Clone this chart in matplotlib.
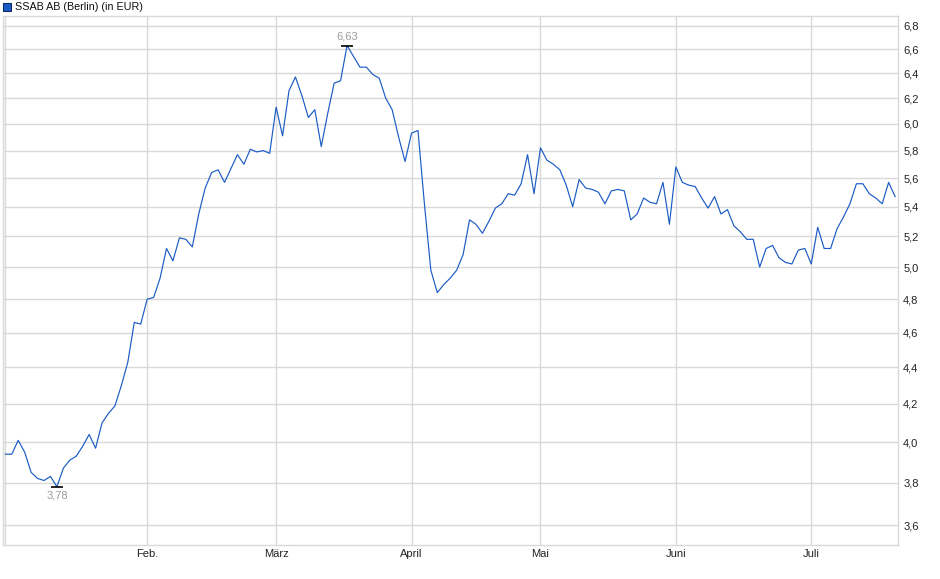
import matplotlib
matplotlib.use("Agg")
import matplotlib.pyplot as plt
from matplotlib.patches import Rectangle
from matplotlib.ticker import FixedLocator, NullLocator, FuncFormatter
import numpy as np

# daily closing prices (EUR), one value per trading day
prices = [
    3.94, 3.94, 4.01, 3.95, 3.85, 3.82, 3.81, 3.83, 3.78, 3.87,
    3.91, 3.93, 3.98, 4.04, 3.97, 4.10, 4.15, 4.19, 4.30, 4.43,
    4.66, 4.65, 4.80, 4.81, 4.93, 5.12, 5.04, 5.19, 5.18, 5.13,
    5.35, 5.53, 5.64, 5.66, 5.57, 5.67, 5.77, 5.70, 5.81, 5.79,
    5.80, 5.78, 6.13, 5.91, 6.26, 6.37, 6.22, 6.05, 6.11, 5.83,
    6.08, 6.32, 6.34, 6.63, 6.54, 6.45, 6.45, 6.39, 6.36, 6.20,
    6.11, 5.90, 5.72, 5.93, 5.95, 5.42, 4.98, 4.84, 4.89, 4.93,
    4.98, 5.08, 5.31, 5.28, 5.22, 5.30, 5.39, 5.42, 5.49, 5.48,
    5.56, 5.77, 5.49, 5.82, 5.73, 5.70, 5.66, 5.55, 5.40, 5.59,
    5.53, 5.52, 5.50, 5.42, 5.51, 5.52, 5.51, 5.31, 5.35, 5.46,
    5.43, 5.42, 5.57, 5.28, 5.68, 5.57, 5.55, 5.54, 5.46, 5.39,
    5.47, 5.35, 5.38, 5.27, 5.23, 5.18, 5.18, 5.00, 5.12, 5.14,
    5.06, 5.03, 5.02, 5.11, 5.12, 5.02, 5.26, 5.12, 5.12, 5.25,
    5.33, 5.42, 5.56, 5.56, 5.49, 5.46, 5.42, 5.57, 5.47,
]

# first trading day of each month (index into prices)
month_starts = [0, 22, 42, 63, 83, 104, 125]
month_labels = ["", "Feb.", "März", "April", "Mai", "Juni", "Juli"]

y_ticks = [3.6, 3.8, 4.0, 4.2, 4.4, 4.6, 4.8, 5.0, 5.2, 5.4, 5.6, 5.8, 6.0, 6.2, 6.4, 6.6, 6.8]

line_color = "#1a5bc4"
grid_color = "#d9d9d9"

plt.rcParams["font.family"] = ["Liberation Sans", "DejaVu Sans"]

W, H = 940, 579
fig = plt.figure(figsize=(W / 100, H / 100), dpi=100)
ax = fig.add_axes([3 / W, (H - 545) / H, (898.3 - 3) / W, (545 - 16) / H])

x = np.arange(len(prices))
ax.plot(x, prices, color=line_color, linewidth=0.85, zorder=3)

ax.set_yscale("log")
ax.set_ylim(3.5095, 6.8845)
ax.set_xlim(-0.36, len(prices) - 0.5)

ax.yaxis.set_major_locator(FixedLocator(y_ticks))
ax.yaxis.set_minor_locator(NullLocator())
ax.yaxis.set_major_formatter(FuncFormatter(lambda v, p: f"{v:.1f}".replace(".", ",")))
ax.yaxis.tick_right()
ax.tick_params(axis="y", length=0, pad=3.5, labelsize=8, labelcolor="#222222")

ax.set_xticks(month_starts)
ax.set_xticklabels(month_labels)
ax.xaxis.set_minor_locator(NullLocator())
ax.tick_params(axis="x", length=0, pad=3, labelsize=8, labelcolor="#222222")

ax.grid(True, color=grid_color, linewidth=1.0, zorder=0)
ax.set_axisbelow(True)
for s in ax.spines.values():
    s.set_color(grid_color)
    s.set_linewidth(1.0)

# high / low markers
i_max = int(np.argmax(prices))
i_min = int(np.argmin(prices))
for i, off, va in [(i_max, 3, "bottom"), (i_min, -3, "top")]:
    ax.plot(i, prices[i], marker="_", markersize=9, markeredgewidth=1.2, color="black", zorder=4)
    ax.annotate(f"{prices[i]:.2f}".replace(".", ","), (i, prices[i]),
                xytext=(0, off), textcoords="offset points",
                ha="center", va=va, fontsize=8, color="#9a9a9a")

# legend entry at the top left
fig.patches.append(Rectangle((3 / W, (H - 11) / H), 8 / W, 8 / H, transform=fig.transFigure,
                             facecolor=line_color, edgecolor="#0a2a6a", linewidth=0.8))
fig.text(15 / W, (H - 7) / H, "SSAB AB (Berlin) (in EUR)", fontsize=7.75,
         va="center", ha="left", color="#111111")

fig.savefig("out.png", dpi=100)
